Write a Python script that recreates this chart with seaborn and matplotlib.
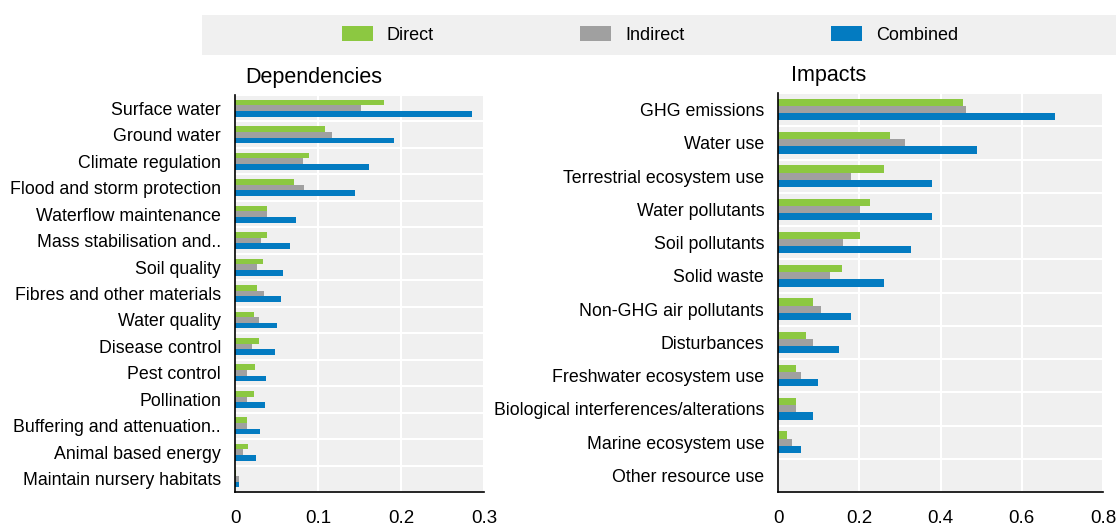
import matplotlib
matplotlib.use("Agg")
import matplotlib.pyplot as plt
import matplotlib.patches as mpatches
import seaborn as sns
import pandas as pd
import numpy as np

dep_categories = ["Surface water", "Ground water", "Climate regulation", "Flood and storm protection",
                  "Waterflow maintenance", "Mass stabilisation and..", "Soil quality",
                  "Fibres and other materials", "Water quality", "Disease control", "Pest control",
                  "Pollination", "Buffering and attenuation..", "Animal based energy",
                  "Maintain nursery habitats"]
dep_direct = [0.180, 0.109, 0.089, 0.071, 0.039, 0.038, 0.034, 0.026, 0.023, 0.029, 0.024, 0.023, 0.015, 0.016, 0.001]
dep_indirect = [0.152, 0.117, 0.082, 0.083, 0.038, 0.031, 0.027, 0.035, 0.029, 0.021, 0.015, 0.014, 0.015, 0.010, 0.005]
dep_combined = [0.286, 0.192, 0.161, 0.145, 0.074, 0.066, 0.058, 0.055, 0.050, 0.048, 0.037, 0.036, 0.030, 0.025, 0.005]

imp_categories = ["GHG emissions", "Water use", "Terrestrial ecosystem use", "Water pollutants",
                  "Soil pollutants", "Solid waste", "Non-GHG air pollutants", "Disturbances",
                  "Freshwater ecosystem use", "Biological interferences/alterations",
                  "Marine ecosystem use", "Other resource use"]
imp_direct = [0.456, 0.275, 0.261, 0.227, 0.203, 0.157, 0.085, 0.069, 0.044, 0.044, 0.021, 0.0]
imp_indirect = [0.462, 0.313, 0.180, 0.201, 0.161, 0.128, 0.106, 0.087, 0.057, 0.044, 0.035, 0.0]
imp_combined = [0.681, 0.489, 0.380, 0.378, 0.328, 0.262, 0.179, 0.151, 0.098, 0.087, 0.057, 0.0]

series_names = ["Direct", "Indirect", "Combined"]
colors = ["#8cc841", "#a0a0a0", "#037bc1"]
dep_xticks = [0, 0.1, 0.2, 0.3]
dep_xticklabels = ["0", "0.1", "0.2", "0.3"]
imp_xticks = [0, 0.2, 0.4, 0.6, 0.8]
imp_xticklabels = ["0", "0.2", "0.4", "0.6", "0.8"]

sns.set_style("white")
plt.rcParams['font.family'] = ['Liberation Sans', 'DejaVu Sans']
plt.rcParams['text.color'] = 'black'
plt.rcParams['xtick.color'] = 'black'
plt.rcParams['ytick.color'] = 'black'
plt.rcParams['xtick.labelcolor'] = 'black'
plt.rcParams['ytick.labelcolor'] = 'black'


def long_df(cats, d, i, c):
    rows = []
    for name, vals in zip(series_names, [d, i, c]):
        for cat, v in zip(cats, vals):
            rows.append({"cat": cat, "series": name, "value": v})
    return pd.DataFrame(rows)


fig = plt.figure(figsize=(11.18, 5.27), dpi=100)
ax1 = fig.add_axes([0.2102, 0.0664, 0.2227, 0.7533])
ax2 = fig.add_axes([0.6959, 0.0664, 0.2907, 0.7571])


def draw(ax, cats, d, i, c, xlim, xticks, xticklabels, title):
    df = long_df(cats, d, i, c)
    sns.barplot(data=df, y="cat", x="value", hue="series", order=cats, hue_order=series_names,
                palette=colors, saturation=1, orient="h", width=0.64, linewidth=0, ax=ax,
                legend=False)
    ax.set_facecolor("#f0f0f0")
    ax.set_xlim(*xlim)
    n = len(cats)
    ax.set_ylim(n - 0.5, -0.5)
    ax.set_xticks(xticks)
    ax.set_xticklabels(xticklabels, fontsize=13.5)
    ax.set_yticks(range(n))
    ax.set_yticklabels(cats, fontsize=12.8)
    ax.set_yticks(np.arange(-0.5, n, 1.0), minor=True)
    ax.tick_params(axis="y", which="major", length=0, pad=10)
    ax.tick_params(axis="y", which="minor", direction="in", length=5, width=1.2, color="black")
    ax.tick_params(axis="x", which="major", direction="in", length=5, width=1.2, pad=13, color="black")
    ax.grid(False)
    ax.grid(True, axis="x", which="major", color="white", linewidth=1.5)
    ax.grid(True, axis="y", which="minor", color="white", linewidth=1.5)
    ax.set_axisbelow(True)
    for s in ["top", "right"]:
        ax.spines[s].set_visible(False)
    for s in ["left", "bottom"]:
        ax.spines[s].set_color("black")
        ax.spines[s].set_linewidth(1.2)
    ax.set_xlabel("")
    ax.set_ylabel("")
    ax.set_title(title, loc="left", fontsize=15.5, pad=9, x=0.04)


draw(ax1, dep_categories, dep_direct, dep_indirect, dep_combined, (0, 0.3),
     dep_xticks, dep_xticklabels, "Dependencies")
draw(ax2, imp_categories, imp_direct, imp_indirect, imp_combined, (0, 0.8),
     imp_xticks, imp_xticklabels, "Impacts")

# legend band
band = mpatches.Rectangle((0.1807, 0.8956), 0.8175, 0.0759, transform=fig.transFigure,
                          facecolor="#f0f0f0", edgecolor="none", zorder=0)
fig.patches.append(band)
handles = [mpatches.Patch(facecolor=c, edgecolor="none", label=n) for n, c in zip(series_names, colors)]
fig.legend(handles=handles, loc="center", bbox_to_anchor=(0.5814, 0.9335), ncol=3, frameon=False,
           fontsize=13, handlelength=1.72, handleheight=0.9, columnspacing=8.1, handletextpad=0.78)

fig.savefig("out.png", dpi=100)
